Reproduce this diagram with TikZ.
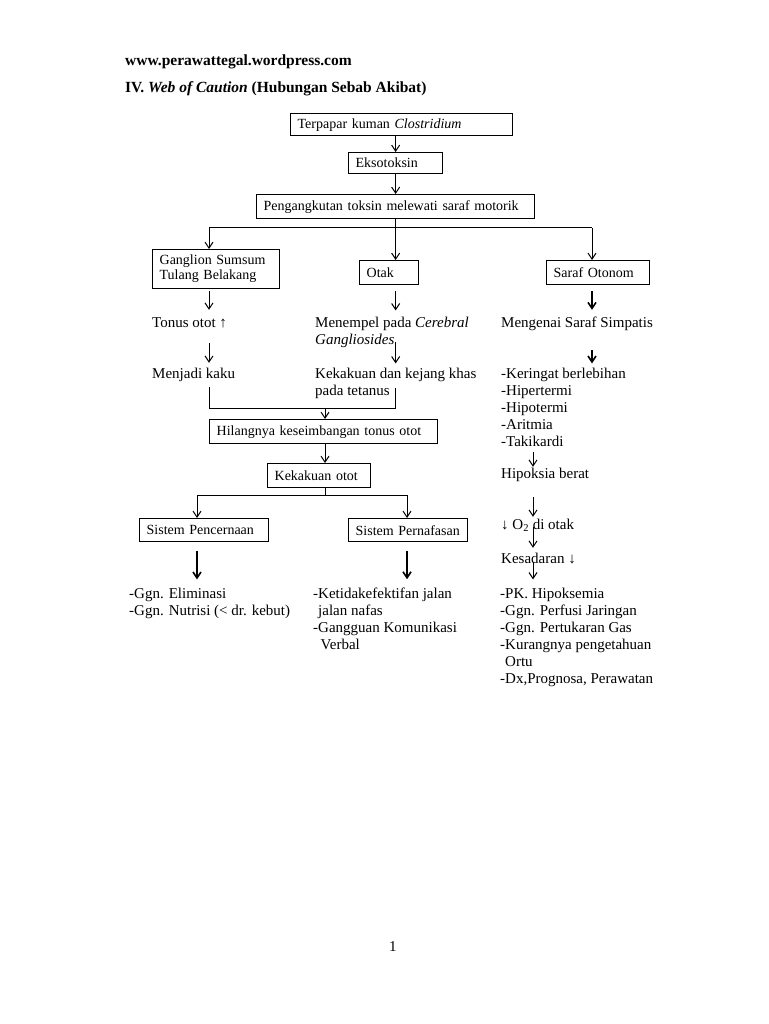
\documentclass[tikz,border=0pt]{standalone}
\usepackage{fontspec}
\setmainfont{Liberation Serif}
\usetikzlibrary{arrows.meta}

\tikzset{
  kotak/.style={draw, line width=1.3pt, anchor=north west, inner xsep=7pt, inner ysep=0pt, align=left, font=\fontsize{14}{15}\selectfont},
  teks/.style={anchor=base west, inner sep=0pt, align=left, font=\fontsize{15}{17}\selectfont},
  satu/.style={teks, text height=11pt, text depth=3pt},
  tebal/.style={font=\fontsize{15.5}{18}\selectfont\bfseries},
  panah/.style={->, >={Straight Barb[length=6pt,width=8pt]}, line width=1pt},
  panahtebal/.style={panah, line width=1.6pt},
  garis/.style={line width=1pt}
}

\begin{document}
\begin{tikzpicture}[x=1pt, y=-1pt]
	\useasboundingbox (0,0) rectangle (768,1024);
	
	% judul
	\node[teks, tebal] (situs) at (125,66) {www.perawattegal.wordpress.com};
	\node[teks, tebal] (judul) at (125,93) {IV. \textit{Web of Caution} (Hubungan Sebab Akibat)};
	
	% kotak
	\node[kotak, text width=208pt, minimum height=22pt] (terpapar) at (290,113) {Terpapar kuman \textit{Clostridium}};
	\node[kotak, text width=80pt, minimum height=21pt] (ekso) at (348,152) {Eksotoksin};
	\node[kotak, text width=264pt, minimum height=24pt] (angkut) at (256,194) {Pengangkutan toksin melewati saraf motorik};
	\node[kotak, text width=113pt, minimum height=39pt] (ganglion) at (152,249) {Ganglion Sumsum\\Tulang Belakang};
	\node[kotak, text width=45pt, minimum height=24pt] (otak) at (359,260) {Otak};
	\node[kotak, text width=89pt, minimum height=24pt] (otonom) at (546,260) {Saraf Otonom};
	\node[kotak, text width=214pt, minimum height=24pt] (hilang) at (209,419) {Hilangnya keseimbangan tonus otot};
	\node[kotak, text width=89pt, minimum height=24pt] (kaku) at (267,463) {Kekakuan otot};
	\node[kotak, text width=115pt, minimum height=23pt] (cerna) at (139,518) {Sistem Pencernaan};
	\node[kotak, text width=105pt, minimum height=23pt] (nafas) at (348,518) {Sistem Pernafasan};
	
	% teks (base = garis dasar baris terakhir)
	\node[satu] (tonus) at (152,327) {Tonus otot ↑};
	\node[teks] (menempel) at (315,344) {Menempel pada \textit{Cerebral}\\\textit{Gangliosides}};
	\node[satu] (mengenai) at (501,327) {Mengenai Saraf Simpatis};
	\node[satu] (menjadi) at (152,378) {Menjadi kaku};
	\node[teks] (kejang) at (315,395) {Kekakuan dan kejang khas\\pada tetanus};
	\node[teks] (keringat) at (501,446) {-Keringat berlebihan\\-Hipertermi\\-Hipotermi\\-Aritmia\\-Takikardi};
	\node[satu] (hipoksia) at (501,478) {Hipoksia berat};
	\node[satu] (oksigen) at (501,529) {↓ O\textsubscript{2} di otak};
	\node[satu] (sadar) at (501,563) {Kesadaran ↓};
	\node[teks] (ggn) at (129,615) {-Ggn. Eliminasi\\-Ggn. Nutrisi (< dr. kebut)};
	\node[teks] (nafasdx) at (313,649) {-Ketidakefektifan jalan\\\hphantom{-}jalan nafas\\-Gangguan Komunikasi\\\hphantom{-}\,Verbal};
	\node[teks] (hipodx) at (500,683) {-PK. Hipoksemia\\-Ggn. Perfusi Jaringan\\-Ggn. Pertukaran Gas\\-Kurangnya pengetahuan\\\hphantom{-}Ortu\\-Dx,Prognosa, Perawatan};
	\node[satu] (halaman) at (389,951) {1};
	
	% titik cabang
	\coordinate (lajurKiri) at (209,228);
	\coordinate (lajurKanan) at (592,228);
	\coordinate (gabung) at (325,408);
	\coordinate (cabang) at (325,495);
	\coordinate (cabangKiri) at (197,495);
	\coordinate (cabangKanan) at (407,495);
	\coordinate (lajurSimpatis) at (533,450);
	
	\draw[panah] (terpapar.south -| ekso.north) -- (ekso.north);
	\draw[panah] (ekso.south) -- (ekso.south |- angkut.north);
	\draw[panah] (angkut.south) -- (angkut.south |- otak.north);
	\draw[garis] (lajurKiri) -- (lajurKanan);
	\draw[panah] (lajurKiri) -- (lajurKiri |- ganglion.north);
	\draw[panah] (lajurKanan) -- (lajurKanan |- otonom.north);
	
	\draw[panah, shorten <=2pt, shorten >=6pt] (ganglion.south -| lajurKiri) -- (tonus.north -| lajurKiri);
	\draw[panah, shorten <=6pt, shorten >=6pt] (otak.south -| angkut.south) -- (menempel.north -| angkut.south);
	\draw[panahtebal, shorten <=6pt, shorten >=6pt] (otonom.south -| lajurKanan) -- (mengenai.north -| lajurKanan);
	\draw[panah, shorten <=13pt, shorten >=4pt] (tonus.south -| lajurKiri) -- (menjadi.north -| lajurKiri);
	\draw[panah, shorten <=-5pt, shorten >=4pt] (menempel.south -| angkut.south) -- (kejang.north -| angkut.south);
	\draw[panahtebal, shorten <=20pt, shorten >=4pt] (mengenai.south -| lajurKanan) -- (keringat.north -| lajurKanan);
	
	\draw[garis, shorten <=6pt] (menjadi.south -| lajurKiri) |- (gabung);
	\draw[garis, shorten <=-10pt] (kejang.south -| angkut.south) |- (gabung);
	\draw[panah] (gabung) -- (gabung |- hilang.north);
	\draw[panah] (hilang.south -| gabung) -- (gabung |- kaku.north);
	\draw[garis] (kaku.south -| gabung) -- (cabang);
	\draw[garis] (cabangKiri) -- (cabangKanan);
	\draw[panah] (cabangKiri) -- (cabangKiri |- cerna.north);
	\draw[panah] (cabangKanan) -- (cabangKanan |- nafas.north);
	\draw[panahtebal, shorten <=9pt, shorten >=8pt] (cerna.south -| cabangKiri) -- (ggn.north -| cabangKiri);
	\draw[panahtebal, shorten <=9pt, shorten >=8pt] (nafas.south -| cabangKanan) -- (nafasdx.north -| cabangKanan);
	
	\draw[panah, shorten <=6pt] (keringat.south -| lajurSimpatis) -- (hipoksia.north -| lajurSimpatis);
	\draw[panah, shorten <=16pt, shorten >=1pt] (hipoksia.south -| lajurSimpatis) -- (oksigen.north -| lajurSimpatis);
	\draw[panah, shorten <=-5pt, shorten >=4pt] (oksigen.south -| lajurSimpatis) -- (sadar.north -| lajurSimpatis);
	\draw[panah, shorten <=-4pt, shorten >=8pt] (sadar.south -| lajurSimpatis) -- (hipodx.north -| lajurSimpatis);
\end{tikzpicture}
\end{document}
